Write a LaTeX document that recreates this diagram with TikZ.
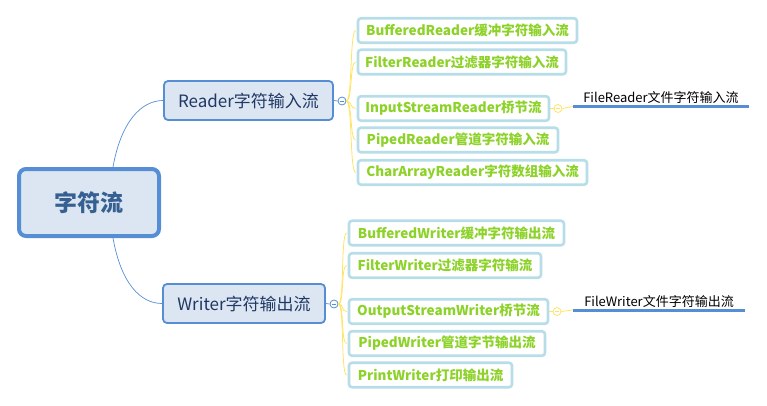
\documentclass[tikz,border=0pt]{standalone}
\usepackage{fontspec}
\setmainfont{Noto Sans CJK SC}
\definecolor{rootborder}{RGB}{85,142,213}
\definecolor{rootfill}{RGB}{220,230,242}
\definecolor{roottext}{RGB}{55,96,146}
\definecolor{subtext}{RGB}{31,56,100}
\definecolor{leafborder}{RGB}{183,221,232}
\definecolor{leaftext}{RGB}{140,210,40}
\definecolor{yline}{RGB}{255,228,100}
\definecolor{bline}{RGB}{85,142,213}
\tikzset{
  rootbox/.style={draw=rootborder, line width=4pt, fill=rootfill, rounded corners=7pt,
    minimum width=140pt, minimum height=67pt, text=roottext, font=\fontsize{23}{26}\selectfont\bfseries},
  subbox/.style={draw=rootborder, line width=1.8pt, fill=rootfill, rounded corners=4pt,
    minimum height=39pt, text=subtext, font=\fontsize{17}{20}\selectfont},
  leafbox/.style={draw=leafborder, line width=2.6pt, fill=white, rounded corners=3pt,
    minimum height=24.5pt, text=leaftext, font=\fontsize{13.5}{16}\selectfont\bfseries},
  collapse/.style={circle, draw=#1, line width=0.8pt, fill=white, minimum size=8pt, inner sep=0pt},
  minusmark/.style={draw=#1, line width=0.8pt},
  bconn/.style={draw=bline, line width=0.7pt},
  yconn/.style={draw=yline, line width=0.8pt},
  leaflabel/.style={text=black, font=\fontsize{13}{16}\selectfont, inner sep=0pt, minimum height=17pt, anchor=south},
  underline/.style={draw=bline, line width=3pt},
}
\begin{document}
\begin{tikzpicture}[x=1pt,y=-1pt]
\useasboundingbox (0,0) rectangle (767,406);
% root
\node[rootbox] (root) at (89,202.5) {字符流};
% sub topics
\node[subbox, minimum width=169pt] (rd) at (248.5,100.5) {Reader字符输入流};
\node[subbox, minimum width=162pt] (wr) at (244,303.5) {Writer字符输出流};
% reader leaves
\node[leafbox, minimum width=219pt] (r1) at (467.5,30.5) {BufferedReader缓冲字符输入流};
\node[leafbox, minimum width=208pt] (r2) at (462,62) {FilterReader过滤器字符输入流};
\node[leafbox, minimum width=191pt] (r3) at (453.5,108.5) {InputStreamReader桥节流};
\node[leafbox, minimum width=200pt] (r4) at (458,140) {PipedReader管道字符输入流};
\node[leafbox, minimum width=229pt] (r5) at (472.5,172.5) {CharArrayReader字符数组输入流};
% writer leaves
\node[leafbox, minimum width=215pt] (w1) at (456.5,233) {BufferedWriter缓冲字符输出流};
\node[leafbox, minimum width=192pt] (w2) at (445,265.5) {FilterWriter过滤器字符输流};
\node[leafbox, minimum width=199pt] (w3) at (448.5,311.5) {OutputStreamWriter桥节流};
\node[leafbox, minimum width=196pt] (w4) at (447,343.5) {PipedWriter管道字节输出流};
\node[leafbox, minimum width=163pt] (w5) at (430.5,375) {PrintWriter打印输出流};
% third level labels
\node[leaflabel, minimum width=176pt] (fr) at (661,106.5) {FileReader文件字符输入流};
\node[leaflabel, minimum width=172pt] (fw) at (659,310) {FileWriter文件字符输出流};
\draw[underline] (fr.south west) -- (fr.south east);
\draw[underline] (fw.south west) -- (fw.south east);
% collapse markers
\node[collapse=bline] (crd) at (342,101) {};
\node[collapse=bline] (cwr) at (334,304) {};
\node[collapse=yline] (cr3) at (558,108.5) {};
\node[collapse=yline] (cw3) at (557,311.5) {};
\foreach \c/\col in {crd/bline,cwr/bline,cr3/yline,cw3/yline}{
  \draw[minusmark=\col] ([xshift=-2.3pt]\c.center) -- ([xshift=2.3pt]\c.center);
}
% root connectors
\draw[bconn] ([xshift=24pt]root.north) .. controls +(8,-45) and +(-22,0) .. (rd.west);
\draw[bconn] ([xshift=24pt]root.south) .. controls +(8,45) and +(-22,0) .. (wr.west);
\draw[bconn] (rd.east) -- (crd.west);
\draw[bconn] (wr.east) -- (cwr.west);
% branches
\foreach \n in {r1,r2,r3,r4,r5}{
  \draw[yconn] (crd.east) .. controls +(6,0) and +(-6,0) .. ([xshift=-1pt]\n.west);
}
\foreach \n in {w1,w2,w3,w4,w5}{
  \draw[yconn] (cwr.east) .. controls +(6,0) and +(-6,0) .. ([xshift=-1pt]\n.west);
}
\draw[yconn] (r3.east) -- (cr3.west);
\draw[yconn] (w3.east) -- (cw3.west);
\draw[yconn] (cr3.east) -- (fr.south west);
\draw[yconn] (cw3.east) -- (fw.south west);
\end{tikzpicture}
\end{document}
